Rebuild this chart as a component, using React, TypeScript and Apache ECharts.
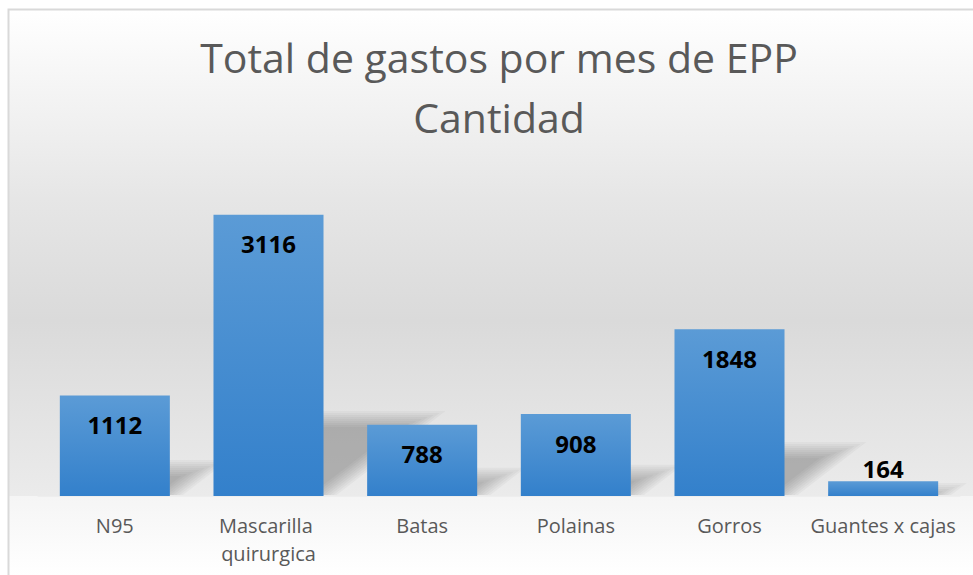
import React, { useEffect, useRef } from "react";
import * as echarts from "echarts";

const categories = ["N95", "Mascarilla quirurgica", "Batas", "Polainas", "Gorros", "Guantes x cajas"];
const values = [1112, 3116, 788, 908, 1848, 164];
const titleLines = ["Total de gastos por mes de EPP", "Cantidad"];

const FONT = "'Open Sans', 'Noto Sans', sans-serif";

export default function App() {
  const ref = useRef<HTMLDivElement>(null);
  useEffect(() => {
    if (!ref.current) return;
    const chart = echarts.init(ref.current, null, { renderer: "svg" });
    const barGradient = new echarts.graphic.LinearGradient(0, 0, 0, 1, [
      { offset: 0, color: "#5b9bd6" },
      { offset: 1, color: "#3380cb" },
    ]);
    const barFrac = 0.716;
    chart.setOption({
      animation: false,
      backgroundColor: "#ffffff",
      graphic: [
        {
          type: "rect",
          z: -10,
          silent: true,
          shape: { x: 8, y: 9, width: 1000, height: 487 },
          style: {
            fill: new echarts.graphic.LinearGradient(0, 0, 0, 1, [
              { offset: 0, color: "#ffffff" },
              { offset: 0.39, color: "#e6e6e6" },
              { offset: 0.64, color: "#dadada" },
              { offset: 1, color: "#ebebeb" },
            ]),
          },
        },
        {
          type: "rect",
          z: -10,
          silent: true,
          shape: { x: 8, y: 496, width: 1000, height: 100 },
          style: {
            fill: new echarts.graphic.LinearGradient(0, 0, 0, 1, [
              { offset: 0, color: "#f5f5f5" },
              { offset: 0.8, color: "#ffffff" },
              { offset: 1, color: "#ffffff" },
            ]),
          },
        },
        {
          type: "rect",
          z: -9,
          silent: true,
          shape: { x: 8.5, y: 9.5, width: 1000, height: 1000 },
          style: { fill: "none", stroke: "#d9d9d9", lineWidth: 2 },
        },
      ],
      title: {
        text: titleLines.join("\n"),
        left: 499,
        top: 27,
        padding: 0,
        textAlign: "center",
        textStyle: {
          fontFamily: FONT,
          fontSize: 41,
          fontWeight: "normal",
          color: "#595959",
          lineHeight: 60,
        },
      },
      grid: { left: 38, right: 13, top: 180, bottom: 79, containLabel: false },
      xAxis: {
        type: "category",
        data: categories,
        axisTick: { show: false },
        axisLine: { show: true, lineStyle: { color: "#eeeeee", width: 1 } },
        axisLabel: {
          interval: 0,
          margin: 15,
          fontFamily: FONT,
          fontSize: 20,
          color: "#595959",
          lineHeight: 28,
          width: 152,
          overflow: "break",
        },
      },
      yAxis: {
        type: "value",
        min: 0,
        max: 3500,
        show: false,
        splitLine: { show: false },
      },
      series: [
        {
          type: "custom",
          z: 1,
          silent: true,
          data: values.map((v, i) => [i, v]),
          renderItem: (params: any, api: any) => {
            const idx = api.value(0);
            const v = api.value(1);
            const base = api.coord([idx, 0]);
            const top = api.coord([idx, v]);
            const bw = api.size([1, 0])[0] * barFrac;
            const h = base[1] - top[1];
            const xl = base[0] - bw / 2;
            const xr = base[0] + bw / 2;
            const yb = base[1] - 1;
            const dx = 0.35 * h;
            const dy = 0.27 * h;
            const yt = yb - dy;
            const len = Math.sqrt(dx * dx + dy * dy) || 1;
            const nx = -dy / len;
            const ny = -dx / len;
            const children: any[] = [];
            for (let o = -8; o <= 8; o += 2) {
              const ytp = yt + o;
              if (ytp >= yb - 1) continue;
              const sx = xr + o * nx;
              const sy = yb + o * ny;
              const t1 = ((sy - ytp) * len) / dy;
              const cx = sx + (t1 * dx) / len;
              const t0 = ((sy - yb) * len) / dy;
              const bx = sx + (t0 * dx) / len;
              children.push({
                type: "polygon",
                shape: {
                  points: [
                    [xl, yb],
                    [bx, yb],
                    [cx, ytp],
                    [xl + dx, ytp],
                  ],
                },
                style: { fill: "rgba(60,60,60,0.04)" },
              });
            }
            return { type: "group", children };
          },
        },
        {
          type: "bar",
          z: 3,
          barCategoryGap: "28.4%",
          data: values.map((v) =>
            v < 400 ? { value: v, label: { position: "top", distance: 1 } } : v
          ),
          itemStyle: { color: barGradient },
          label: {
            show: true,
            position: "insideTop",
            distance: 17,
            fontFamily: FONT,
            fontSize: 24,
            fontWeight: "bold",
            color: "#000000",
            lineHeight: 24,
          },
        },
      ],
    });
    return () => chart.dispose();
  }, []);
  return (
    <div
      ref={ref}
      style={{ position: "fixed", left: 0, top: 0, width: 973, height: 575 }}
    />
  );
}
